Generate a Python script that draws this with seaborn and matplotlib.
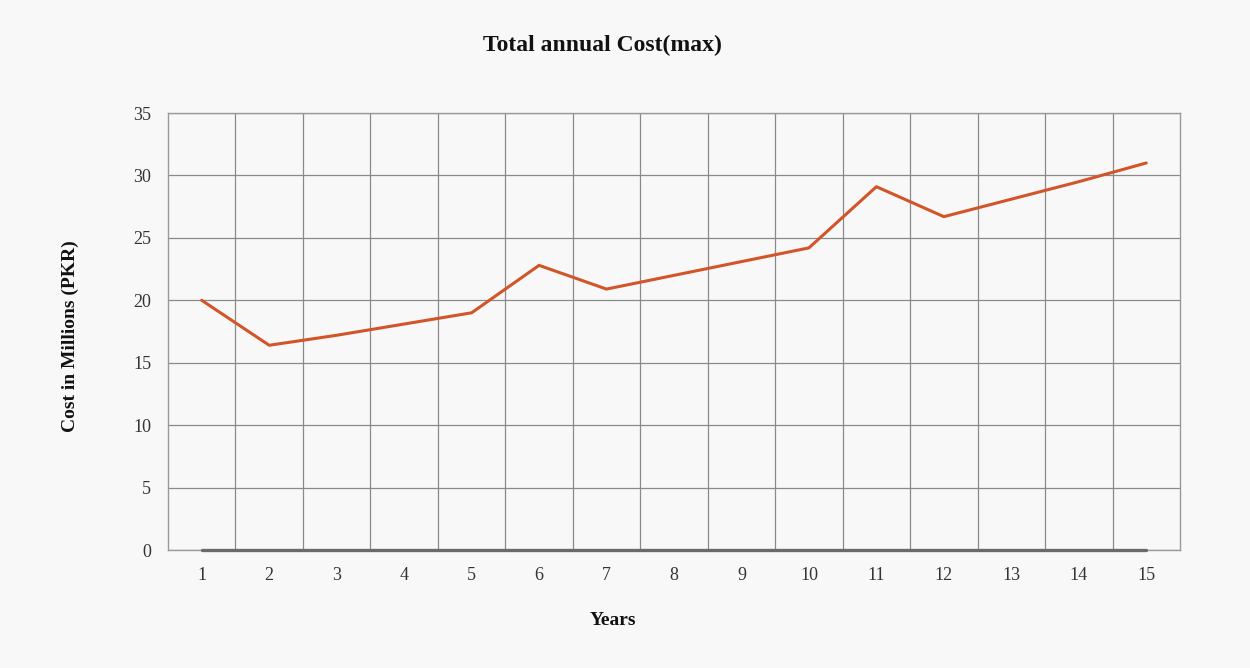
import matplotlib
matplotlib.use("Agg")
import matplotlib.pyplot as plt
import seaborn as sns
import pandas as pd
from matplotlib.ticker import FixedLocator

years = [str(i) for i in range(1, 16)]
cost_max = [20.0, 16.4, 17.2, 18.1, 19.0, 22.8, 20.9, 22.0, 23.1, 24.2, 29.1, 26.7, 28.1, 29.5, 31.0]
baseline = [0] * 15
y_ticks = [0, 5, 10, 15, 20, 25, 30, 35]

sns.set_theme(style="white")
plt.rcParams['font.family'] = ['Liberation Serif', 'DejaVu Serif']

df = pd.DataFrame({"Year": years, "Cost": cost_max, "Base": baseline})

fig = plt.figure(figsize=(12.5, 6.68), dpi=100, facecolor="#f8f8f8")
ax = fig.add_axes([0.1344, 0.1766, 0.8096, 0.6542])
ax.set_facecolor("#f8f8f8")

sns.lineplot(data=df, x="Year", y="Base", ax=ax, color="#6a6a6a", linewidth=2.4, sort=False)
sns.lineplot(data=df, x="Year", y="Cost", ax=ax, color="#d2552a", linewidth=2.2, sort=False)
for ln in ax.lines:
    ln.set_clip_on(False)
    ln.set_zorder(5)

ax.set_xlim(-0.5, 14.5)
ax.set_ylim(0, 35)
ax.set_yticks(y_ticks)
ax.xaxis.set_minor_locator(FixedLocator([i + 0.5 for i in range(14)]))
ax.grid(False)
ax.grid(True, which="minor", axis="x", color="#8a8a8a", linewidth=0.9)
ax.grid(True, which="major", axis="y", color="#8a8a8a", linewidth=0.9)
ax.set_axisbelow(True)
for s in ax.spines.values():
    s.set_color("#9a9a9a")
    s.set_linewidth(1.0)
ax.tick_params(axis="both", which="both", length=0, labelsize=13, colors="#333333")
ax.tick_params(axis="x", pad=12)
ax.tick_params(axis="y", pad=12)

ax.set_xlabel("Years", fontsize=14, fontweight="bold", color="#111111")
ax.xaxis.set_label_coords((613 - 168) / 1012, -(612 - 550) / 437)
ax.set_ylabel("Cost in Millions (PKR)", fontsize=14, fontweight="bold", color="#111111")
ax.yaxis.set_label_coords(-(168 - 79) / 1012, 0.49)
fig.text(0.4816, 0.932, "Total annual Cost(max)", ha="center", va="center",
         fontsize=17, fontweight="bold", color="#111111")

fig.savefig("out.png", dpi=100, facecolor=fig.get_facecolor())
